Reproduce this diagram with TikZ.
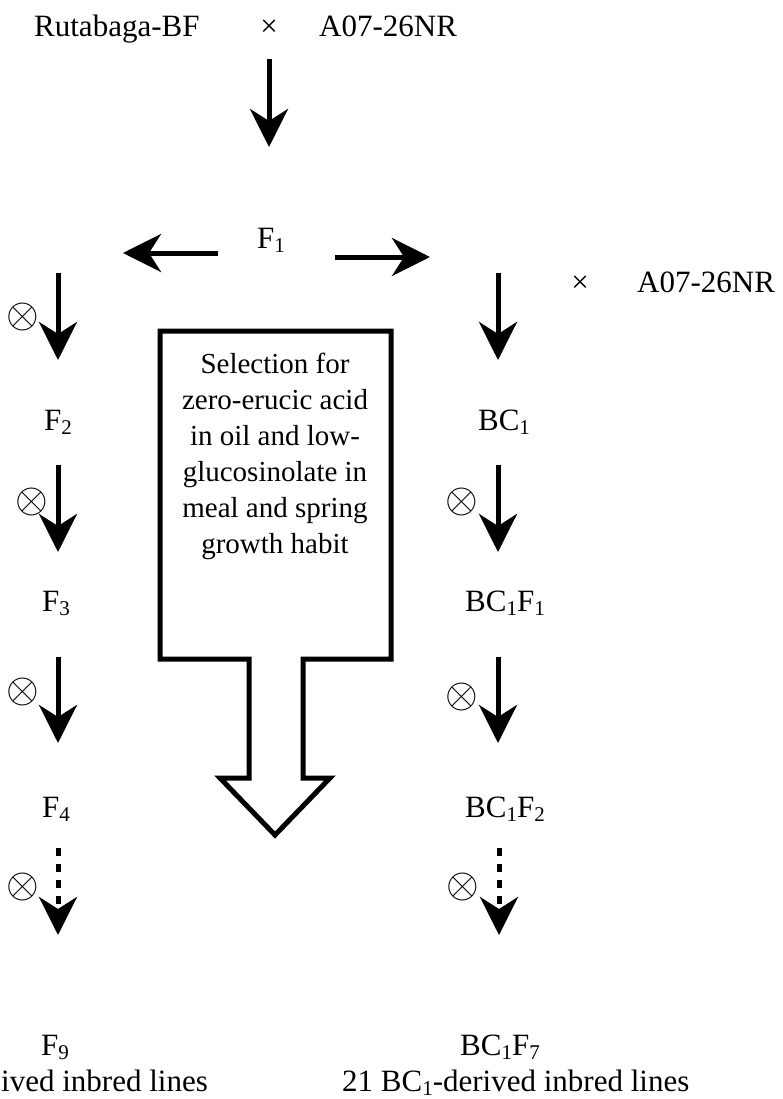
\documentclass[tikz,border=0pt]{standalone}
\usepackage{fontspec}
\usepackage{graphicx}
\setmainfont{Liberation Serif}
\usetikzlibrary{arrows.meta}
\newcommand\mysub[1]{\raisebox{-4pt}{\fontsize{21}{21}\selectfont #1}}
\begin{document}
\begin{tikzpicture}[x=1pt,y=-1pt,
  lbl/.style={font=\fontsize{31}{36}\selectfont, inner sep=0pt, anchor=base},
  arr/.style={line width=5pt, -{Stealth[length=38pt,width=38pt,inset=12pt]}},
  dotarr/.style={arr, dash pattern=on 8pt off 8pt},
  selfing/.style={inner sep=0pt},
  bigarrow/.style={line width=5pt, line join=miter}]
\useasboundingbox (0,0) rectangle (783,1099);

% top cross
\node[lbl, anchor=base west] (p1) at (34,37) {Rutabaga-BF};
\node[lbl] (x1) at (269,37) {×};
\node[lbl, anchor=base west] (p2) at (319,37) {A07-26NR};
\coordinate (a0s) at (269,59); \coordinate (a0e) at (269,147);
\draw[arr] (a0s) -- (a0e);

% F1
\node[lbl] (f1) at (271,248) {F\mysub{1}};
\coordinate (al0) at (218,253); \coordinate (al1) at (123,253);
\coordinate (ar0) at (335,257); \coordinate (ar1) at (430,257);
\draw[arr] (al0) -- (al1);
\draw[arr] (ar0) -- (ar1);

% backcross parent
\node[lbl] (x2) at (580,292) {×};
\node[lbl, anchor=base west] (p3) at (637,292) {A07-26NR};

% left column
\coordinate (l1s) at (58,273); \coordinate (l1e) at (58,360);
\coordinate (l2s) at (58,465); \coordinate (l2e) at (58,552);
\coordinate (l3s) at (58,657); \coordinate (l3e) at (58,743);
\coordinate (l4s) at (58,848); \coordinate (l4e) at (58,935);
\draw[arr] (l1s) -- (l1e);
\draw[arr] (l2s) -- (l2e);
\draw[arr] (l3s) -- (l3e);
\draw[dotarr] (l4s) -- (l4e);
\node[selfing] (sl1) at (23,317) {\scalebox{4.2}{$\otimes$}};
\node[selfing] (sl2) at (32,502) {\scalebox{4.2}{$\otimes$}};
\node[selfing] (sl3) at (23,692) {\scalebox{4.2}{$\otimes$}};
\node[selfing] (sl4) at (23,887) {\scalebox{4.2}{$\otimes$}};
\node[lbl] (f2) at (58,430) {F\mysub{2}};
\node[lbl] (f3) at (56,611) {F\mysub{3}};
\node[lbl] (f4) at (56,817) {F\mysub{4}};
\node[lbl] (f9) at (55,1055) {F\mysub{9}};

% right column
\coordinate (r1s) at (498,273); \coordinate (r1e) at (498,360);
\coordinate (r2s) at (498,465); \coordinate (r2e) at (498,552);
\coordinate (r3s) at (498,657); \coordinate (r3e) at (498,743);
\coordinate (r4s) at (499,848); \coordinate (r4e) at (499,935);
\draw[arr] (r1s) -- (r1e);
\draw[arr] (r2s) -- (r2e);
\draw[arr] (r3s) -- (r3e);
\draw[dotarr] (r4s) -- (r4e);
\node[selfing] (sr2) at (462,502) {\scalebox{4.2}{$\otimes$}};
\node[selfing] (sr3) at (462,697) {\scalebox{4.2}{$\otimes$}};
\node[selfing] (sr4) at (463,887) {\scalebox{4.2}{$\otimes$}};
\node[lbl] (bc1) at (504,430) {BC\mysub{1}};
\node[lbl] (bc1f1) at (505,611) {BC\mysub{1}F\mysub{1}};
\node[lbl] (bc1f2) at (505,817) {BC\mysub{1}F\mysub{2}};
\node[lbl] (bc1f7) at (500,1055) {BC\mysub{1}F\mysub{7}};

% selection block arrow
\draw[bigarrow] (160,331) -- (391,331) -- (391,659) -- (303,659) -- (303,778)
  -- (330,778) -- (275,835) -- (220,778) -- (249,778) -- (249,659) -- (160,659) -- cycle;
\node[font=\fontsize{29}{36}\selectfont, align=center, inner sep=0pt, anchor=north] (sel) at (275,353)
  {Selection for\\zero-erucic acid\\in oil and low-\\glucosinolate in\\meal and spring\\growth habit};

% bottom
\node[lbl, anchor=base west] (linesL) at (1,1091) {ived inbred lines};
\node[lbl, anchor=base west] (linesR) at (342,1091) {21 BC\mysub{1}-derived inbred lines};
\end{tikzpicture}
\end{document}
